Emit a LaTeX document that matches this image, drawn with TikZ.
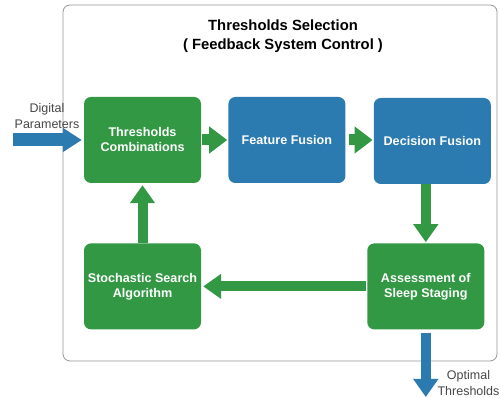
\documentclass[tikz,border=0pt]{standalone}
\usepackage{fontspec}
\setmainfont{Liberation Sans}
\usepackage{tikz}
\usetikzlibrary{positioning,arrows.meta}
\definecolor{boxgreen}{RGB}{50,152,68}
\definecolor{boxblue}{RGB}{43,122,176}
\definecolor{framegray}{RGB}{150,150,150}
\definecolor{labelgray}{RGB}{70,70,70}
\tikzset{
  stage/.style={rectangle, rounded corners=7pt, minimum width=117pt, minimum height=86pt,
                inner sep=2pt, align=center, text=white,
                font=\bfseries\fontsize{12.6}{15}\selectfont},
  greenbox/.style={fill=boxgreen},
  bluebox/.style={fill=boxblue},
  fat/.style={line width=11pt, -{Triangle[length=18pt, width=26pt]}},
  slim/.style={line width=10pt, -{Triangle[length=18pt, width=24pt]}},
  sidelabel/.style={align=center, text=labelgray, font=\fontsize{12.5}{16}\selectfont},
}

\begin{document}
\begin{tikzpicture}[x=1pt, y=1pt]
  \useasboundingbox (0,0) rectangle (500,398);

  % frame and title
  \draw[framegray, rounded corners=7pt, line width=0.8pt] (63,393) rectangle (497,37);
  \node[align=center, font=\bfseries\fontsize{14.8}{19}\selectfont] (title) at (283,361.5)
    {Thresholds Selection\\( Feedback System Control )};

  \node[stage, greenbox] (comb) at (142.5,258) {Thresholds\\Combinations};
  \node[stage, bluebox] (feat) [right=27pt of comb] {Feature Fusion};
  \node[stage, bluebox] (dec) [right=28pt of feat, yshift=-1pt] {Decision Fusion};
  \node[stage, greenbox] (assess) [below=60pt of dec, xshift=-6.5pt, yshift=1pt] {Assessment of\\Sleep Staging};
  \node[stage, greenbox] (search) [below=60pt of comb] {Stochastic Search\\Algorithm};

  \coordinate (in) at (13,258);
  \coordinate (out) at (assess.south |- 0,1);
  \node[sidelabel] (inlabel) at (47,282) {Digital\\Parameters};
  \node[sidelabel] (outlabel) at (468.5,15) {Optimal\\Thresholds};

  \draw[fat, boxgreen, shorten <=1pt, shorten >=1pt] (comb.east) -- (feat.west);
  \draw[fat, boxgreen, shorten <=3pt, shorten >=1pt] (feat.east) -- (dec.west |- feat.east);
  \draw[slim, boxgreen, shorten >=1pt] (assess.north |- dec.south) -- (assess.north);
  \draw[slim, boxgreen, shorten <=1pt, shorten >=2pt] (assess.west) -- (search.east);
  \draw[slim, boxgreen, shorten >=2pt] (search.north) -- (comb.south);

  \draw[line width=13pt, boxblue, -{Triangle[length=19pt, width=23pt]}, shorten >=2pt] (in) -- (comb.west);
  \draw[slim, boxblue, shorten <=3pt] (assess.south) -- (out);
\end{tikzpicture}
\end{document}
